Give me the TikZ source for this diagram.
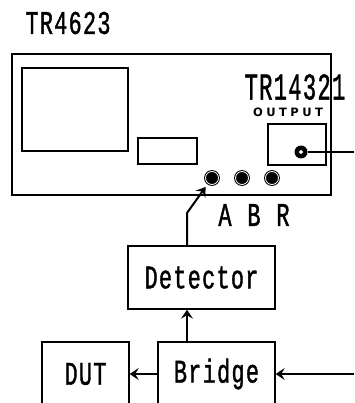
\documentclass[tikz,border=0pt]{standalone}
\usepackage{fontspec}
\usetikzlibrary{arrows.meta}
\newfontfamily\panelfont[FakeStretch=0.66,FakeBold=1.2,LetterSpace=4]{Liberation Mono}
\newfontfamily\tagfont[LetterSpace=30]{DejaVu Sans}

\tikzset{
  unitbox/.style={draw,line width=1.4pt,inner sep=0pt},
  jack/.style={circle,draw,fill=black,line width=1pt,double=white,double distance=0.8pt,inner sep=0pt,minimum size=13pt},
  wire/.style={line width=2pt},
  feed/.style={line width=2pt,-{Stealth[length=9pt,width=12pt,inset=3.5pt]}}
}

\begin{document}
\begin{tikzpicture}[x=1pt,y=-1pt,every node/.style={font=\panelfont\fontsize{33}{33}\selectfont}]
  \useasboundingbox (0,0) rectangle (354,403);
  \clip (0,0) rectangle (354,403);

  % analyzer front panel
  \node at (68,23) {TR4623};
  \node[unitbox,line width=1.1pt,minimum width=319pt,minimum height=141pt] (panel) at (171.5,124.5) {};
  \node[unitbox,line width=1.1pt,minimum width=106pt,minimum height=83pt] (screen) at (75,109.5) {};
  \node[unitbox,line width=1.1pt,minimum width=59pt,minimum height=26pt] (keys) at (167.5,151) {};
  \node[font=\panelfont\fontsize{38}{38}\selectfont,xscale=0.88] (model) at (295,87) {TR14321};
  \node[font=\tagfont\bfseries\fontsize{11.5}{11.5}\selectfont] (outlabel) at (288,112) {OUTPUT};
  \node[unitbox,line width=1.1pt,minimum width=58pt,minimum height=41pt] (outbox) at (297,144.5) {};
  \node[circle,fill=black,inner sep=0pt,minimum size=13pt] (outport) at (301,152) {};
  \node[circle,fill=white,draw=black,line width=0.5pt,inner sep=0pt,minimum size=4.5pt] at (301,152) {};
  \coordinate (outend) at (354,152);
  \draw[wire] (outport) -- (outend);

  % input jacks
  \node[jack] (jackA) at (212,178) {};
  \node[jack] (jackB) at (242,178) {};
  \node[jack] (jackR) at (272,178) {};
  \node at (225,215) {A};
  \node at (254,215) {B};
  \node at (283,215) {R};

  % measurement chain
  \node[unitbox,minimum width=147pt,minimum height=63pt] (det) at (201.5,277.5) {Detector};
  \node[unitbox,minimum width=117pt,minimum height=64pt] (bridge) at (216.5,374) {Bridge};
  \node[unitbox,minimum width=87pt,minimum height=64pt] (dut) at (85.5,374) {DUT};
  \coordinate (bend) at (187,213);
  \coordinate (srcend) at (354,374);

  \draw[feed,shorten >=4pt] (det.north -| bend) -- (bend) -- (jackA);
  \draw[feed] (bridge.north -| bend) -- (det.south -| bend);
  \draw[feed] (bridge.west) -- (dut.east);
  \draw[feed] (srcend) -- (bridge.east);
\end{tikzpicture}
\end{document}
